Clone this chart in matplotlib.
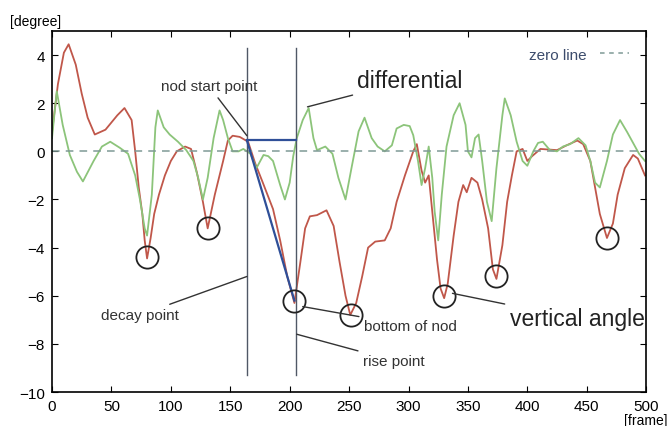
import matplotlib
matplotlib.use('Agg')
import matplotlib.pyplot as plt
from matplotlib.lines import Line2D

plt.rcParams['font.family'] = ['Liberation Sans', 'DejaVu Sans']

# vertical angle of the head (red) [frame, degree]
angle_frame = [0, 5, 10, 14, 20, 25, 30, 36, 45, 55, 61, 67, 70, 73, 76, 78, 80, 83, 86, 90,
               95, 100, 105, 112, 117, 122, 127, 131, 137, 144, 148, 152, 158, 165, 171, 177,
               186, 192, 198, 204, 209, 213, 217, 223, 231, 237, 242, 247, 251, 256, 261, 266,
               272, 280, 285, 290, 297, 304, 307, 311, 314, 317, 320, 324, 327, 330, 333, 338,
               342, 346, 349, 353, 358, 362, 367, 371, 374, 379, 383, 387, 391, 396, 400, 404,
               411, 425, 433, 442, 447, 453, 457, 461, 467, 472, 476, 482, 489, 493, 499]
angle_deg = [0.8, 2.8, 4.1, 4.45, 3.6, 2.4, 1.4, 0.7, 0.9, 1.5, 1.8, 1.3, 0.0, -1.5, -2.6, -3.7,
             -4.45, -3.6, -2.6, -1.8, -1.0, -0.4, 0.0, 0.2, 0.1, -0.9, -2.1, -3.2, -1.8, -0.4,
             0.45, 0.65, 0.6, 0.4, -0.5, -1.25, -2.4, -3.7, -5.2, -6.3, -4.6, -3.2, -2.7, -2.65,
             -2.45, -3.1, -4.6, -6.0, -6.8, -6.3, -5.2, -4.0, -3.75, -3.7, -3.2, -2.1, -1.0, 0.0,
             0.3, -0.8, -1.3, -1.0, -2.5, -4.5, -5.7, -6.1, -5.5, -3.5, -2.1, -1.4, -1.7, -1.1,
             -1.3, -2.0, -3.2, -4.9, -5.3, -3.9, -2.1, -1.0, 0.0, 0.1, -0.4, -0.2, 0.1, 0.05,
             0.25, 0.45, 0.3, -0.4, -1.5, -2.6, -3.6, -3.0, -1.8, -0.7, -0.15, -0.3, -1.0]

# differential (green)
diff_frame = [0, 4, 9, 15, 21, 26, 35, 42, 49, 57, 64, 70, 74, 78, 80, 84, 87, 89, 94, 99,
              106, 113, 119, 123, 127, 131, 136, 141, 144, 148, 152, 157, 161, 167, 172, 178,
              182, 186, 192, 196, 200, 203, 206, 211, 216, 220, 223, 230, 236, 241, 247, 252,
              258, 263, 269, 274, 280, 286, 290, 296, 301, 304, 308, 311, 314, 317, 320, 322,
              325, 328, 332, 338, 343, 348, 350, 353, 356, 359, 362, 366, 370, 374, 379, 381,
              386, 391, 396, 400, 405, 409, 413, 419, 425, 430, 436, 443, 449, 453, 457, 461,
              467, 472, 478, 484, 489, 494, 499]
diff_deg = [0.55, 2.5, 1.1, -0.15, -0.85, -1.25, -0.4, 0.2, 0.4, 0.15, -0.1, -1.0, -2.0, -3.2,
            -3.5, -1.8, 1.0, 1.7, 1.0, 0.7, 0.4, 0.05, -0.4, -1.1, -2.0, -1.1, 0.55, 1.7, 1.3,
            0.55, 0.0, 0.0, 0.1, -0.1, -0.7, -0.15, -0.2, -0.4, -1.4, -2.0, -1.3, -0.2, 0.55,
            1.3, 1.8, 0.55, 0.05, 0.2, -0.1, -1.1, -2.0, -0.7, 0.83, 1.4, 0.55, 0.2, 0.0, 0.25,
            0.95, 1.1, 1.05, 0.67, -0.4, -1.4, -0.7, 0.2, -1.1, -2.5, -3.7, -1.8, 0.2, 1.5, 2.0,
            1.1, 0.0, -0.25, 0.55, 0.7, -0.4, -2.1, -2.9, -0.7, 1.5, 2.2, 1.5, 0.4, -0.4, -0.6,
            0.0, 0.35, 0.4, 0.05, 0.0, 0.2, 0.3, 0.55, 0.25, -0.4, -1.3, -1.5, -0.4, 0.7, 1.3,
            0.8, 0.35, -0.1, -0.4]

# circled bottoms of the nods
bottom_frame = [80, 131, 204, 252, 330, 374, 467]
bottom_deg = [-4.4, -3.2, -6.2, -6.8, -6.0, -5.2, -3.6]

# nod markers
decay_frame = 164
rise_frame = 205
start_deg = 0.46

fig = plt.figure(figsize=(6.71, 4.27), dpi=100)
ax = fig.add_axes([0.0775, 0.0796, 0.8855, 0.8454])

ax.plot(angle_frame, angle_deg, color='#c0574a', lw=1.3)
ax.plot(diff_frame, diff_deg, color='#8cc47a', lw=1.3)
ax.axhline(0, color='#7f9a96', lw=1.1, ls=(0, (5, 4)))

# vertical decay / rise lines
for f in [decay_frame, rise_frame]:
    ax.plot([f, f], [-9.3, 4.3], color='#505866', lw=1.0)

# blue nod triangle
ax.plot([decay_frame, rise_frame], [start_deg, start_deg], color='#2f4f98', lw=1.6)
ax.plot([decay_frame, bottom_frame[2]], [start_deg, bottom_deg[2]], color='#2f4f98', lw=1.6)

ax.plot(bottom_frame, bottom_deg, 'o', mfc='none', mec='#222222', ms=16, mew=1.3)

arrow = dict(arrowstyle='-', color='#333333', lw=1.0, shrinkA=2, shrinkB=0)
ax.annotate('nod start point', xy=(164, 0.65), xytext=(132, 2.72), ha='center', va='center',
            fontsize=11, color='#333333', arrowprops=arrow)
ax.annotate('differential', xy=(215, 1.85), xytext=(257, 2.96), ha='left', va='center',
            fontsize=16.5, color='#222222', arrowprops=arrow)
ax.annotate('decay point', xy=(164, -5.2), xytext=(74, -6.8), ha='center', va='center',
            fontsize=11, color='#333333', arrowprops=arrow)
ax.annotate('bottom of nod', xy=(211, -6.45), xytext=(302, -7.25), ha='center', va='center',
            fontsize=11, color='#333333', arrowprops=arrow)
ax.annotate('rise point', xy=(206, -7.6), xytext=(288, -8.7), ha='center', va='center',
            fontsize=11, color='#333333', arrowprops=arrow)
ax.annotate('vertical angle', xy=(337, -5.9), xytext=(442, -6.96), ha='center', va='center',
            fontsize=16.5, color='#222222', arrowprops=arrow)

ax.legend(handles=[Line2D([], [], color='#7f9a96', lw=1.1, ls=(0, (3, 3)))],
          labels=['zero line'], loc='upper right', frameon=False, markerfirst=False,
          fontsize=11, handlelength=1.9, handletextpad=0.9, borderaxespad=0.7,
          labelcolor='#3c4c6c')

ax.set_xlim(0, 500)
ax.set_ylim(-10, 5)
ax.set_xticks(range(0, 501, 50))
ax.set_yticks(range(-10, 5, 2))
ax.tick_params(direction='in', top=True, right=True, labelsize=11, length=4, pad=5)
for s in ax.spines.values():
    s.set_linewidth(1.2)

fig.text(0.015, 0.948, '[degree]', fontsize=10, ha='left', va='center')
fig.text(0.995, 0.013, '[frame]', fontsize=10, ha='right', va='center')

fig.savefig('out.png', dpi=100)
